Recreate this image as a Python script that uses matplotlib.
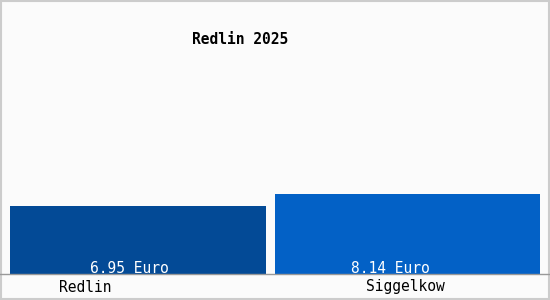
import matplotlib.pyplot as plt
from matplotlib.patches import Rectangle
from matplotlib.lines import Line2D

# Werte
orte = ['Redlin', 'Siggelkow']
preise = [6.95, 8.14]
beschriftungen = ['6.95 Euro', '8.14 Euro']
farben = ['#034a96', '#0361c6']
titel = 'Redlin 2025'

plt.rcParams['font.family'] = 'DejaVu Sans Mono'

fig = plt.figure(figsize=(5.5, 3.0), dpi=100, facecolor='#fbfbfb')
ax = fig.add_axes([10 / 550, 26 / 300, 530 / 550, 274 / 300])
ax.set_facecolor('#fbfbfb')

pos = list(range(len(orte)))
ax.bar(pos, preise, width=[0.95, 0.983], color=farben)
ax.set_xlim(-0.475, 1.4917)
ax.set_ylim(0, 28)

for s in ['top', 'right', 'left', 'bottom']:
    ax.spines[s].set_visible(False)
ax.set_xticks([])
ax.set_yticks([])

# Grundlinie ueber die ganze Breite
fig.add_artist(Line2D([0, 1], [26 / 300, 26 / 300], transform=fig.transFigure,
                      color='#999999', linewidth=1))

# Wertbeschriftungen unten im Balken
versatz = [-0.033, -0.065]
for i, txt in enumerate(beschriftungen):
    ax.text(pos[i] + versatz[i], 0.6, txt, ha='center', va='center',
            color='white', fontsize=10.5)

# Ortsnamen unter der Achse
fig.text(85 / 550, 1 - 287 / 300, orte[0], ha='center', va='center', fontsize=10.5)
fig.text(405 / 550, 1 - 287 / 300, orte[1], ha='center', va='center', fontsize=10.5)

fig.text(240 / 550, 1 - 40 / 300, titel, ha='center', va='center',
         fontsize=10.5, fontweight='bold')

# grauer Rahmen um das Bild
fig.patches.append(Rectangle((0.001, 0.002), 0.997, 0.996, transform=fig.transFigure,
                             fill=False, edgecolor='#cccccc', linewidth=1.5))

fig.savefig('out.png', dpi=100, facecolor=fig.get_facecolor())
